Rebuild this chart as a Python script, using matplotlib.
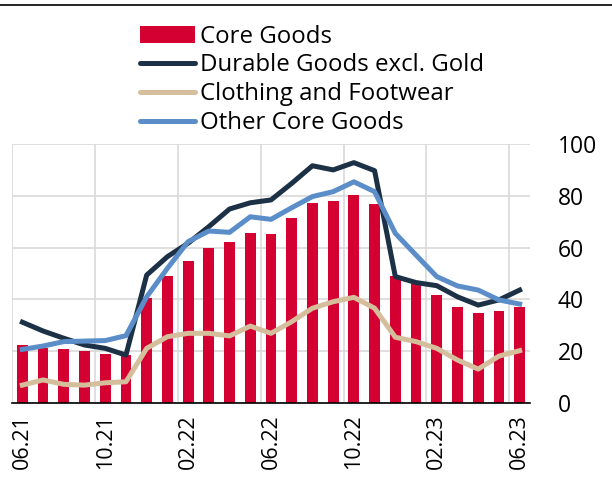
import matplotlib
matplotlib.use("Agg")
import matplotlib.pyplot as plt
from matplotlib.lines import Line2D

plt.rcParams['font.family'] = ['Open Sans', 'DejaVu Sans']

months = ['06.21', '07.21', '08.21', '09.21', '10.21', '11.21', '12.21', '01.22', '02.22',
          '03.22', '04.22', '05.22', '06.22', '07.22', '08.22', '09.22', '10.22', '11.22',
          '12.22', '01.23', '02.23', '03.23', '04.23', '05.23', '06.23']

core_goods = [22.4, 21.1, 20.7, 20.1, 18.9, 18.5, 40.7, 49.0, 54.8, 59.7, 62.0, 65.8, 65.4,
              71.4, 77.3, 78.0, 80.2, 76.7, 49.2, 46.5, 41.7, 37.2, 34.7, 35.6, 37.2]
durable = [31.2, 27.8, 25.0, 22.4, 21.1, 18.5, 49.4, 56.5, 61.7, 68.1, 74.9, 77.3, 78.4,
           84.8, 91.6, 90.0, 92.8, 89.7, 48.8, 46.5, 45.3, 41.0, 37.8, 39.8, 43.6]
clothing = [6.9, 8.9, 7.2, 6.9, 7.8, 8.2, 21.1, 25.6, 26.9, 26.9, 25.9, 29.7, 26.9,
            31.4, 36.6, 39.1, 40.8, 36.6, 25.4, 23.7, 21.1, 16.6, 13.1, 18.1, 20.2]
other_core = [20.7, 22.0, 23.7, 23.9, 24.1, 26.0, 41.0, 52.0, 62.3, 66.4, 65.9, 71.9, 70.9,
              75.4, 79.7, 81.6, 85.4, 81.6, 65.5, 57.1, 48.8, 45.2, 43.6, 39.8, 38.2]

x = list(range(len(months)))

fig = plt.figure(figsize=(6.12, 4.88), dpi=100)
ax = fig.add_axes([12/612, 85/488, 518/612, 259/488])

bars = ax.bar(x, core_goods, width=0.52, color='#D50032', label='Core Goods', zorder=2)
l1, = ax.plot(x, durable, color='#1C3145', lw=3.6, label='Durable Goods excl. Gold', zorder=3)
l2, = ax.plot(x, clothing, color='#D5BE9B', lw=3.6, label='Clothing and Footwear', zorder=3)
l3, = ax.plot(x, other_core, color='#5B8DC9', lw=3.6, label='Other Core Goods', zorder=3)

ax.set_xlim(-0.5, 24.5)
ax.set_ylim(0, 100)
ax.set_yticks([0, 20, 40, 60, 80, 100])
ax.yaxis.tick_right()
ax.tick_params(axis='y', length=0, pad=20, labelsize=16.5)

ax.set_xticks(x[::4])
ax.set_xticklabels(months[::4], rotation=90, fontsize=15.5)
ax.tick_params(axis='x', length=0, pad=8)
ax.set_xticks([i + 3.5 for i in range(-4, 24, 4)], minor=True)
ax.tick_params(axis='x', which='minor', length=0)

ax.grid(True, axis='y', color='#D9D9D9', lw=1.2, zorder=0)
ax.grid(True, axis='x', which='minor', color='#D9D9D9', lw=1.2, zorder=0)
ax.set_axisbelow(True)
for s in ['top', 'right', 'left']:
    ax.spines[s].set_visible(False)
ax.spines['bottom'].set_color('black')
ax.spines['bottom'].set_linewidth(1.2)
ax.spines['bottom'].set_zorder(4)

leg = fig.legend([bars, l1, l2, l3],
                 ['Core Goods', 'Durable Goods excl. Gold', 'Clothing and Footwear', 'Other Core Goods'],
                 loc='upper left', bbox_to_anchor=(130/612, 1 - 15/488), frameon=False,
                 fontsize=17.3, handlelength=2.3, handletextpad=0.2, labelspacing=0.2,
                 borderaxespad=0)
for h in leg.legend_handles:
    if isinstance(h, Line2D):
        h.set_solid_capstyle('round')

fig.add_artist(Line2D([0, 1], [1 - 5/488, 1 - 5/488], color='black', lw=1.2,
                      transform=fig.transFigure))

fig.savefig('out.png', dpi=100)
